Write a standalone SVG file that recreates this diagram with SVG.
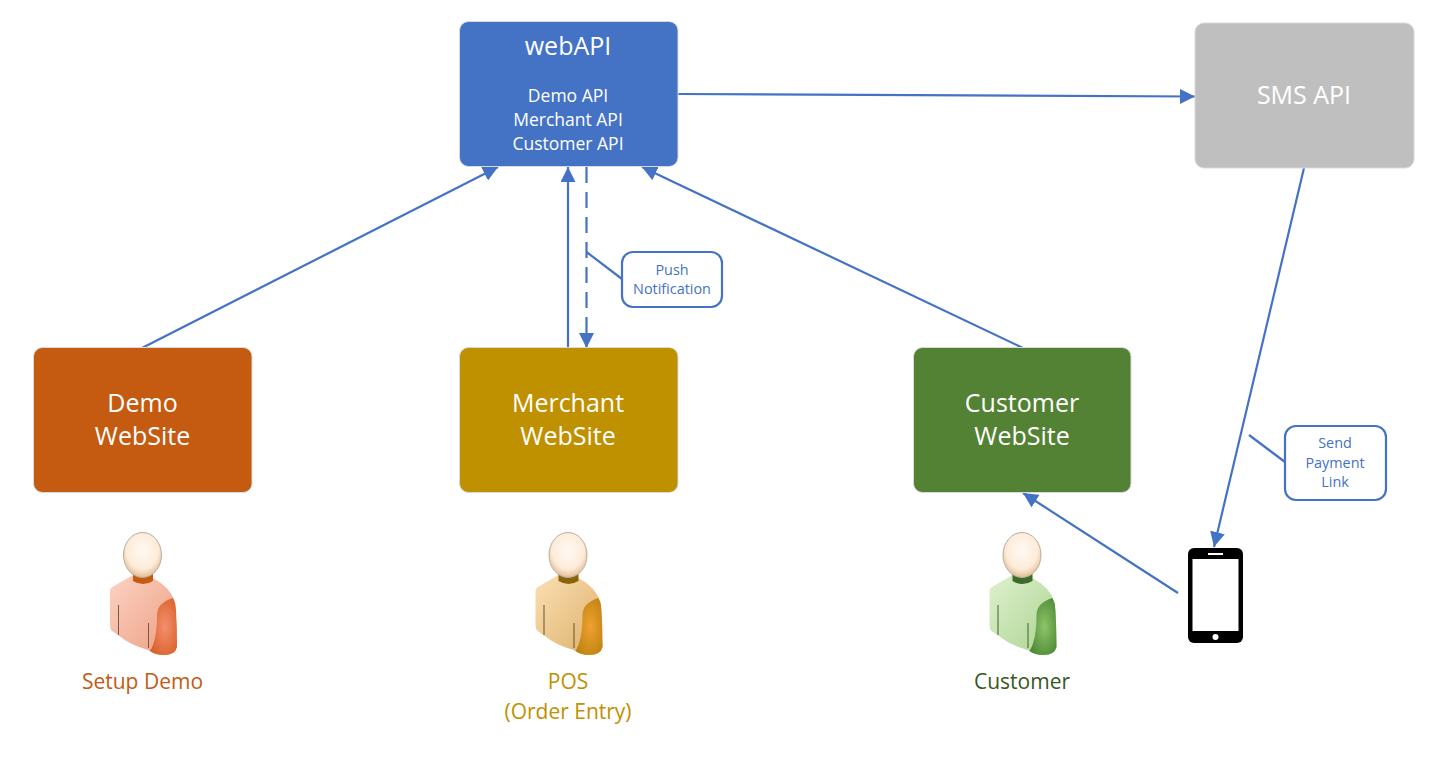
<svg xmlns="http://www.w3.org/2000/svg" width="1446" height="760" viewBox="0 0 1446 760">
<style>
text{font-family:"Open Sans","Noto Sans","Liberation Sans",sans-serif;text-anchor:middle}
.t{fill:#fff;font-size:25px}
.s{fill:#fff;font-size:17.500px}
.c{fill:#4472c4;font-size:14.400px}
.l{font-size:21px}
.box{stroke:#d9d9d9;stroke-width:1}
.con{stroke:#4472c4;stroke-width:2.200;fill:none}
.call{fill:#fff;stroke:#4472c4;stroke-width:2.200}
.head{fill:url(#hd);stroke:#b9ad9f;stroke-width:1}
</style>
<defs>
<marker id="a" markerUnits="userSpaceOnUse" markerWidth="16" markerHeight="15" refX="15" refY="7.500" orient="auto"><path d="M0 0L15 7.500L0 15Z" fill="#4472c4"/></marker>
<radialGradient id="hd" cx=".5" cy=".4" r=".6"><stop offset="0" stop-color="#fffaf3"/><stop offset=".7" stop-color="#fdebd8"/><stop offset="1" stop-color="#e2bd96"/></radialGradient>
<linearGradient id="b1" x1="0" y1="0" x2="1" y2="1"><stop offset="0" stop-color="#fcd3c4"/><stop offset="1" stop-color="#ec9d80"/></linearGradient>
<radialGradient id="r1" cx=".55" cy=".5" r=".6"><stop offset="0" stop-color="#f58f6e"/><stop offset="1" stop-color="#d9622b"/></radialGradient>
<linearGradient id="b2" x1="0" y1="0" x2="1" y2="1"><stop offset="0" stop-color="#fbe0b4"/><stop offset="1" stop-color="#dcae68"/></linearGradient>
<radialGradient id="r2" cx=".55" cy=".5" r=".6"><stop offset="0" stop-color="#f0a030"/><stop offset="1" stop-color="#bf8410"/></radialGradient>
<linearGradient id="b3" x1="0" y1="0" x2="1" y2="1"><stop offset="0" stop-color="#dff1cf"/><stop offset="1" stop-color="#a9d28e"/></linearGradient>
<radialGradient id="r3" cx=".55" cy=".5" r=".6"><stop offset="0" stop-color="#8dc46b"/><stop offset="1" stop-color="#4f8a34"/></radialGradient>
<path id="torso" d="M110 591Q110 588 114 586L133 575L153 578Q170 587 175 602Q177 625 177 647Q175 655 164 655Q155 655 148 650Q130 645 118 635L112 631Q110 629 110 625Z"/>
<path id="arm" d="M157 615Q157 603 173 598Q176 604 176 610Q177 630 177 647Q175 655 164 655Q155 655 150 651Q157 640 157 615Z"/>
<path id="neck" d="M133 574H153V581Q143 587 133 581Z"/>
</defs>
<g id="connectors">
<path class="con" d="M142 348L498 167" marker-end="url(#a)"/>
<path class="con" d="M568 348V167" marker-end="url(#a)"/>
<path class="con" d="M586.500 167V348" stroke-dasharray="16 9" marker-end="url(#a)"/>
<path class="con" d="M1023 348L642 167" marker-end="url(#a)"/>
<path class="con" d="M678 94L1195 96.500" marker-end="url(#a)"/>
<path class="con" d="M1304 168L1214 547" marker-end="url(#a)"/>
<path class="con" d="M1178 593L1023 493" marker-end="url(#a)"/>
<path class="con" d="M586.500 252L622 279"/>
<path class="con" d="M1249 435L1285 462"/>
</g>
<g id="webapi"><rect class="box" x="459.500" y="21.500" width="218.500" height="145" rx="9" fill="#4472c4"/>
<text class="t" x="568" y="55">webAPI</text><text class="s" x="568" y="102">Demo API</text><text class="s" x="568" y="126">Merchant API</text><text class="s" x="568" y="150">Customer API</text></g>
<g id="sms"><rect class="box" x="1195" y="23" width="219" height="145" rx="9" fill="#bfbfbf"/><text class="t" x="1304" y="104">SMS API</text></g>
<g id="demo"><rect class="box" x="33.500" y="347.500" width="218.500" height="145" rx="9" fill="#c55a11"/><text class="t" x="142.500" y="412">Demo</text><text class="t" x="142.500" y="445">WebSite</text></g>
<g id="merchant"><rect class="box" x="459.500" y="347.500" width="218.500" height="145" rx="9" fill="#bf9000"/><text class="t" x="568" y="412">Merchant</text><text class="t" x="568" y="445">WebSite</text></g>
<g id="customer"><rect class="box" x="913.500" y="347.500" width="217.500" height="145" rx="9" fill="#548235"/><text class="t" x="1022" y="412">Customer</text><text class="t" x="1022" y="445">WebSite</text></g>
<g id="push"><rect class="call" x="622" y="252" width="100" height="55" rx="11"/><text class="c" x="672" y="275">Push</text><text class="c" x="672" y="294">Notification</text></g>
<g id="send"><rect class="call" x="1285" y="426" width="101" height="74" rx="11"/><text class="c" x="1335" y="448">Send</text><text class="c" x="1335" y="468">Payment</text><text class="c" x="1335" y="487">Link</text></g>
<g id="phone"><rect x="1188" y="548" width="55" height="95" rx="6" fill="#000"/><rect x="1192.500" y="559" width="46" height="72" fill="#fff"/><rect x="1208" y="553" width="15" height="2" fill="#fff"/><circle cx="1215.500" cy="637" r="3" fill="#fff"/></g>
<g id="person-demo">
<use href="#torso" fill="url(#b1)"/><use href="#arm" fill="url(#r1)"/><use href="#neck" fill="#c55a11"/>
<ellipse class="head" cx="142.500" cy="555" rx="19" ry="22.500"/>
<path d="M118.500 605V635M148.500 623V648" stroke="#7a5a3c" fill="none"/>
<text class="l" x="142.500" y="689" fill="#c55a11">Setup Demo</text></g>
<g id="person-pos" transform="translate(425.500 0)">
<use href="#torso" fill="url(#b2)"/><use href="#arm" fill="url(#r2)"/><use href="#neck" fill="#8a6508"/>
<ellipse class="head" cx="142.500" cy="555" rx="19" ry="22.500"/>
<path d="M118.500 605V635M148.500 623V648" stroke="#6b5320" fill="none"/>
<text class="l" x="142.500" y="689" fill="#bf9000">POS</text><text class="l" x="142.500" y="719" fill="#bf9000">(Order Entry)</text></g>
<g id="person-customer" transform="translate(879.500 0)">
<use href="#torso" fill="url(#b3)"/><use href="#arm" fill="url(#r3)"/><use href="#neck" fill="#3f6b28"/>
<ellipse class="head" cx="142.500" cy="555" rx="19" ry="22.500"/>
<path d="M118.500 605V635M148.500 623V648" stroke="#44602f" fill="none"/>
<text class="l" x="142.500" y="689" fill="#385723">Customer</text></g>
</svg>
